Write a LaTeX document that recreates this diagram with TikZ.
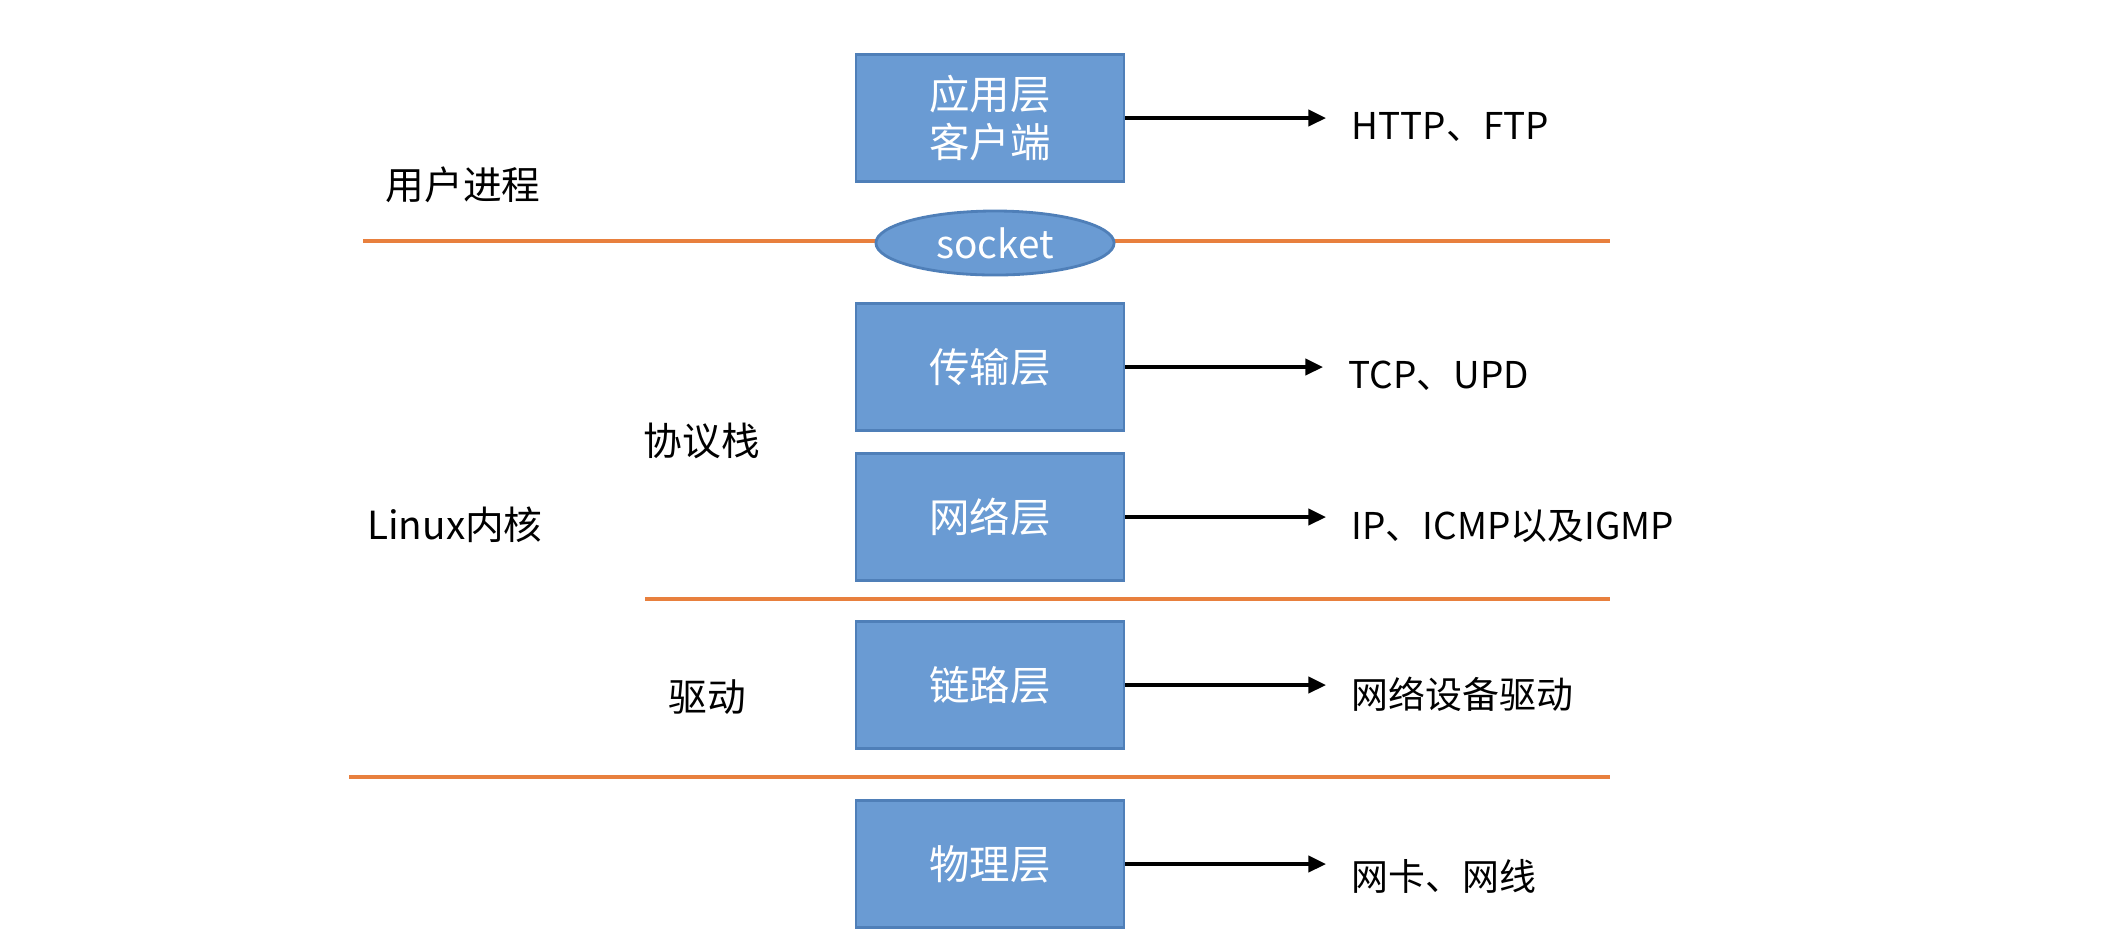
\documentclass[tikz,border=0pt]{standalone}
\usepackage{fontspec}
\setmainfont{Noto Sans CJK SC}
\usepackage{xcolor}
\usetikzlibrary{arrows.meta,shapes.geometric}
\definecolor{layerblue}{HTML}{6A9BD3}
\definecolor{layeredge}{HTML}{4F7FB8}
\definecolor{sepline}{HTML}{E8803E}
\tikzset{
  layer/.style={draw=layeredge, fill=layerblue, line width=0.8pt,
    minimum width=2.68cm, minimum height=1.27cm, inner sep=0pt,
    text=white, align=center, font=\fontsize{11.5}{13.5}\selectfont},
  side/.style={inner sep=0pt, font=\fontsize{11}{13}\selectfont},
  proto/.style={anchor=west, inner xsep=0.25cm, inner ysep=0pt,
    font=\fontsize{10.5}{13}\selectfont},
  sepline/.style={draw=sepline, line width=1.3pt},
  arr/.style={-{Triangle[length=5pt,width=4.6pt]}, line width=1pt},
}

\begin{document}
\begin{tikzpicture}[x=0.01cm,y=-0.01cm]
\useasboundingbox (0,0) rectangle (2108,950);
% separators
\draw[sepline] (363,241) -- (1610,241);
\draw[sepline] (645,599) -- (1610,599);
\draw[sepline] (349,777) -- (1610,777);
% socket
\node[ellipse, draw=layeredge, fill=layerblue, line width=0.8pt,
  minimum width=2.38cm, minimum height=0.64cm, inner sep=0pt, text=white,
  font=\fontsize{11}{13}\selectfont] (socket) at (995,243) {socket};
% layers
\node[layer] (app) at (990,118) {应用层\\客户端};
\node[layer] (trans) at (990,367) {传输层};
\node[layer] (net) at (990,517) {网络层};
\node[layer] (link) at (990,685) {链路层};
\node[layer] (phys) at (990,864) {物理层};
% side labels
\node[side] (user) at (463,185) {用户进程};
\node[side] (stack) at (702,441) {协议栈};
\node[side] (kernel) at (455,525) {Linux内核};
\node[side] (driver) at (707,697) {驱动};
% protocols
\node[proto] (httpftp) at (1326,127) {HTTP、FTP};
\node[proto] (tcpudp) at (1323,376) {TCP、UPD};
\node[proto] (ipicmp) at (1326,526) {IP、ICMP以及IGMP};
\node[proto] (devdrv) at (1326,694) {网络设备驱动};
\node[proto] (nic) at (1326,876) {网卡、网线};
\draw[arr] (app) -- (app -| httpftp.west);
\draw[arr] (trans) -- (trans -| tcpudp.west);
\draw[arr] (net) -- (net -| ipicmp.west);
\draw[arr] (link) -- (link -| devdrv.west);
\draw[arr] (phys) -- (phys -| nic.west);
\end{tikzpicture}
\end{document}
